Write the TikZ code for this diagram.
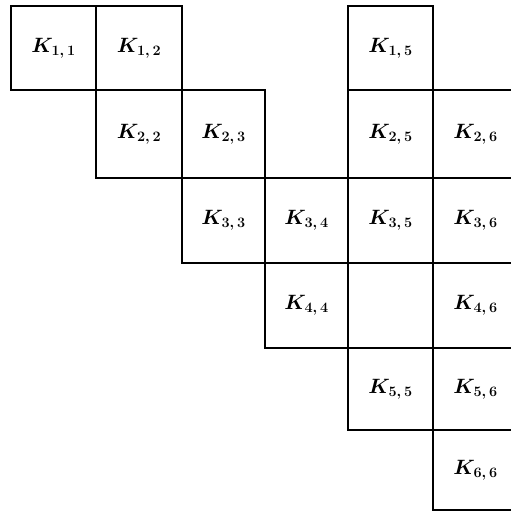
\documentclass[tikz,border=0pt]{standalone}
\usepackage{amsmath}
\newcommand{\kk}[2]{$K_{\mbox{\fontsize{15}{15}\selectfont$#1,#2$}}$}
\tikzset{
  cell/.style={draw=black, line width=1.6pt, inner sep=0pt, anchor=center,
    font=\fontsize{21}{25}\selectfont\boldmath},
}
\begin{document}
\begin{tikzpicture}[x=1pt,y=-1pt]
\useasboundingbox (0,0) rectangle (511,512);
\clip (0,0) rectangle (511,512);
% columns: 11,96,182,265,348,433,518 ; rows: 6,90,178,263,348,430,510
\node[cell, minimum width=85pt, minimum height=84pt] (k11) at (53.5,48) {\kk{1}{1}};
\node[cell, minimum width=86pt, minimum height=84pt] (k12) at (139,48) {\kk{1}{2}};
\node[cell, minimum width=85pt, minimum height=84pt] (k15) at (390.5,48) {\kk{1}{5}};
\node[cell, minimum width=86pt, minimum height=88pt] (k22) at (139,134) {\kk{2}{2}};
\node[cell, minimum width=83pt, minimum height=88pt] (k23) at (223.5,134) {\kk{2}{3}};
\node[cell, minimum width=85pt, minimum height=88pt] (k25) at (390.5,134) {\kk{2}{5}};
\node[cell, minimum width=85pt, minimum height=88pt] (k26) at (475.5,134) {\kk{2}{6}};
\node[cell, minimum width=83pt, minimum height=85pt] (k33) at (223.5,220.5) {\kk{3}{3}};
\node[cell, minimum width=83pt, minimum height=85pt] (k34) at (306.5,220.5) {\kk{3}{4}};
\node[cell, minimum width=85pt, minimum height=85pt] (k35) at (390.5,220.5) {\kk{3}{5}};
\node[cell, minimum width=85pt, minimum height=85pt] (k36) at (475.5,220.5) {\kk{3}{6}};
\node[cell, minimum width=83pt, minimum height=85pt] (k44) at (306.5,305.5) {\kk{4}{4}};
\node[cell, minimum width=85pt, minimum height=85pt] (k45) at (390.5,305.5) {};
\node[cell, minimum width=85pt, minimum height=85pt] (k46) at (475.5,305.5) {\kk{4}{6}};
\node[cell, minimum width=85pt, minimum height=82pt] (k55) at (390.5,389) {\kk{5}{5}};
\node[cell, minimum width=85pt, minimum height=82pt] (k56) at (475.5,389) {\kk{5}{6}};
\node[cell, minimum width=85pt, minimum height=80pt] (k66) at (475.5,470) {\kk{6}{6}};
\end{tikzpicture}
\end{document}
